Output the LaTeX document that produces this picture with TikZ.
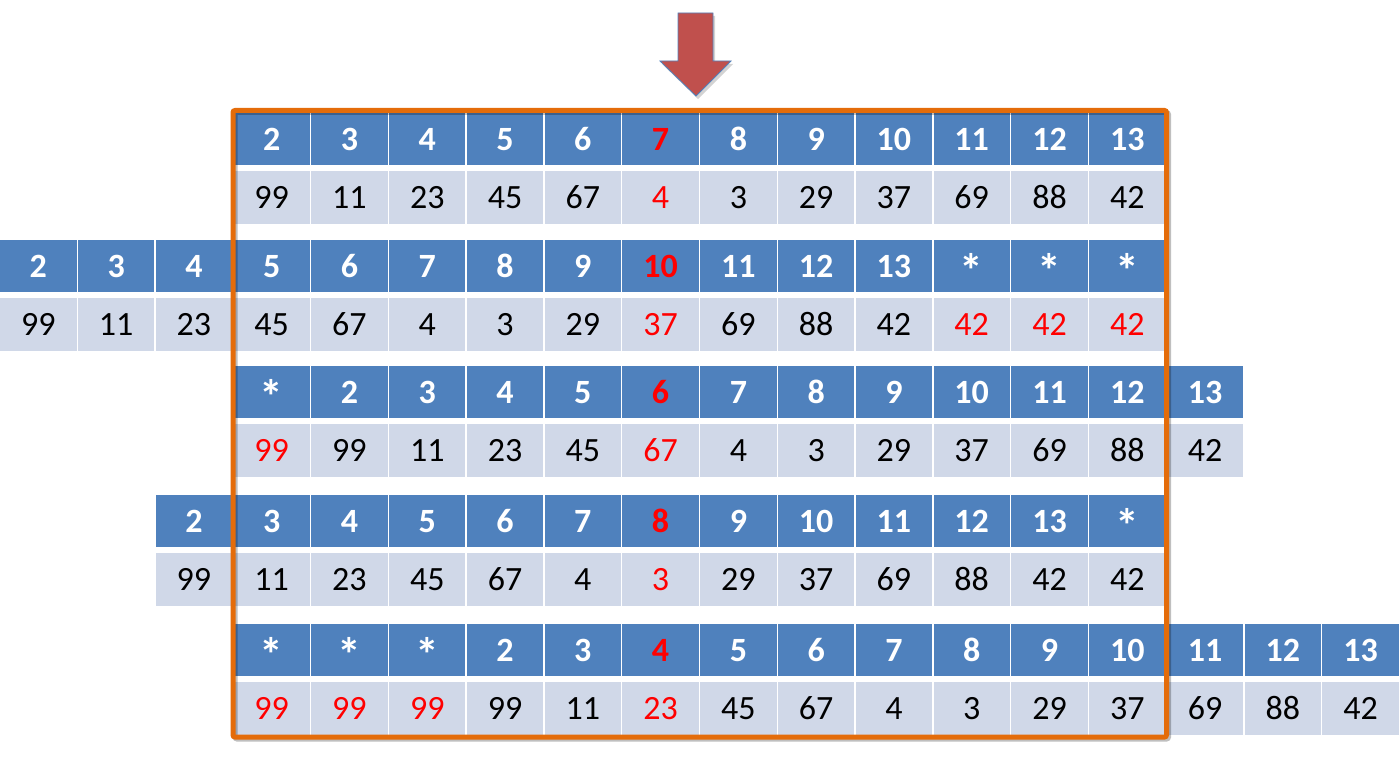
\documentclass[tikz,border=0pt]{standalone}
\usepackage{fontspec}
\usepackage{graphicx}
\setmainfont{Carlito}
\usetikzlibrary{shadows}
\definecolor{hblue}{RGB}{79,129,189}
\definecolor{dblue}{RGB}{208,216,232}
\definecolor{boxorange}{RGB}{228,108,10}
\definecolor{arrowred}{RGB}{192,80,77}
\definecolor{pred}{RGB}{255,0,0}
\newcommand\st{\raisebox{-10pt}{\scalebox{1.4}{*}}}
\tikzset{
  cellbase/.style={rectangle, anchor=north west, inner sep=0pt, minimum width=76.3pt,
    text height=22pt, text depth=0pt, font=\fontsize{34}{34}\selectfont},
  hdr/.style={cellbase, fill=hblue, minimum height=52pt, font=\bfseries\fontsize{34}{34}\selectfont},
  dat/.style={cellbase, fill=dblue, minimum height=53pt},
  frame/.style={draw=boxorange, line width=5pt, rounded corners=2pt,
    drop shadow={opacity=0.25, shadow xshift=2pt, shadow yshift=-2pt, fill=none, draw=black, line width=5pt}},
  bigarrow/.style={fill=arrowred, draw=hblue, line width=0.8pt,
    drop shadow={opacity=0.35, shadow xshift=2pt, shadow yshift=-3pt}}
}
\newcommand\cellrow[4]{%
  \foreach \h/\hc/\d/\dc [count=\i from 0] in {#4} {
    \node[hdr, text=\hc] (h#1-\i) at ({(#2+\i)*77.78}, #3) {\h};
    \node[dat, text=\dc] (d#1-\i) at ({(#2+\i)*77.78}, #3+58) {\d};
  }%
}
\begin{document}
\begin{tikzpicture}[x=1pt, y=-1pt]
\useasboundingbox (0,0) rectangle (1400,762);
% row 1
\cellrow{1}{3}{113}{2/white/99/black, 3/white/11/black, 4/white/23/black, 5/white/45/black,
  6/white/67/black, 7/pred/4/pred, 8/white/3/black, 9/white/29/black, 10/white/37/black,
  11/white/69/black, 12/white/88/black, 13/white/42/black}
% row 2
\cellrow{2}{0}{240}{2/white/99/black, 3/white/11/black, 4/white/23/black, 5/white/45/black,
  6/white/67/black, 7/white/4/black, 8/white/3/black, 9/white/29/black, 10/pred/37/pred,
  11/white/69/black, 12/white/88/black, 13/white/42/black, \st/white/42/pred, \st/white/42/pred,
  \st/white/42/pred}
% row 3
\cellrow{3}{3}{366}{\st/white/99/pred, 2/white/99/black, 3/white/11/black, 4/white/23/black,
  5/white/45/black, 6/pred/67/pred, 7/white/4/black, 8/white/3/black, 9/white/29/black,
  10/white/37/black, 11/white/69/black, 12/white/88/black, 13/white/42/black}
% row 4
\cellrow{4}{2}{495}{2/white/99/black, 3/white/11/black, 4/white/23/black, 5/white/45/black,
  6/white/67/black, 7/white/4/black, 8/pred/3/pred, 9/white/29/black, 10/white/37/black,
  11/white/69/black, 12/white/88/black, 13/white/42/black, \st/white/42/black}
% row 5
\cellrow{5}{3}{624}{\st/white/99/pred, \st/white/99/pred, \st/white/99/pred, 2/white/99/black,
  3/white/11/black, 4/pred/23/pred, 5/white/45/black, 6/white/67/black, 7/white/4/black,
  8/white/3/black, 9/white/29/black, 10/white/37/black, 11/white/69/black,
  12/white/88/black, 13/white/42/black}
% window frame
\draw[frame] (233,110.5) rectangle (1166.5,737);
% pointer arrow
\draw[bigarrow] (678,13) -- (713,13) -- (713,61) -- (731,61) -- (696,96) -- (660,61) -- (678,61) -- cycle;
\end{tikzpicture}
\end{document}
